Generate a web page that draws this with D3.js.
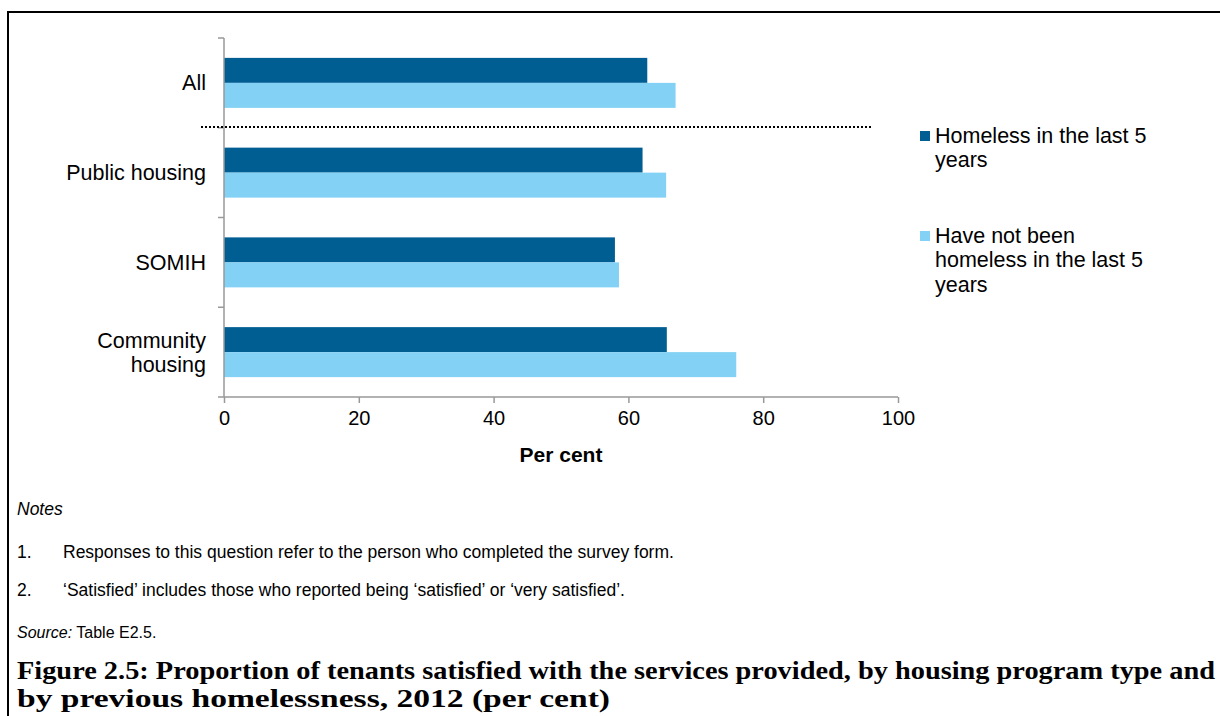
<!DOCTYPE html>
<html>
<head>
<meta charset="utf-8">
<script src="https://cdn.jsdelivr.net/npm/d3@7"></script>
<style>
  html, body { margin: 0; padding: 0; background: #fff; }
  svg { display: block; }
  text { font-family: "Liberation Sans", Arial, sans-serif; fill: #000; }
</style>
</head>
<body>
<svg id="chart" width="1220" height="716"></svg>
<script>
// Housing program categories (top to bottom)
const categories = ["All", "Public housing", "SOMIH", "Community housing"];
const categoryLines = [["All"], ["Public housing"], ["SOMIH"], ["Community", "housing"]];

// Series: share of tenants satisfied (per cent)
const seriesNames = ["Homeless in the last 5 years", "Have not been homeless in the last 5 years"];
const homeless = [62.8, 62.1, 58.0, 65.7];
const notHomeless = [67.0, 65.6, 58.6, 76.0];

const xTicks = [0, 20, 40, 60, 80, 100];

const legendLines = [["Homeless in the last 5", "years"], ["Have not been", "homeless in the last 5", "years"]];
const notes = [
  "Responses to this question refer to the person who completed the survey form.",
  "\u2018Satisfied\u2019 includes those who reported being \u2018satisfied\u2019 or \u2018very satisfied\u2019."
];
const titleLines = [
  "Figure 2.5: Proportion of tenants satisfied with the services provided, by housing program type and",
  "by previous homelessness, 2012 (per cent)"
];

const colors = ["#005E93", "#83D1F5"];

const svg = d3.select("#chart");

// Frame around the figure
svg.append("line").attr("x1", 8).attr("x2", 1220).attr("y1", 12).attr("y2", 12)
  .attr("stroke", "#000").attr("stroke-width", 2);
svg.append("line").attr("x1", 8).attr("x2", 8).attr("y1", 11).attr("y2", 716)
  .attr("stroke", "#000").attr("stroke-width", 2);

const x = d3.scaleLinear().domain([0, 100]).range([224, 898]);
const y = d3.scaleBand().domain(categories).range([38, 397]).paddingInner(0).paddingOuter(0);
const inner = d3.scaleBand().domain([0, 1]).range([0, y.bandwidth()]).paddingInner(0).paddingOuter(0.795);

// Bars
const series = [homeless, notHomeless];
series.forEach((vals, si) => {
  svg.append("g").selectAll("rect")
    .data(categories)
    .join("rect")
    .attr("x", x(0))
    .attr("y", c => y(c) + inner(si))
    .attr("width", (c, i) => x(vals[i]) - x(0))
    .attr("height", inner.bandwidth())
    .attr("fill", colors[si]);
});

// X axis
const xAxis = svg.append("g")
  .attr("transform", `translate(0,${397})`)
  .call(d3.axisBottom(x).tickValues(xTicks).tickSize(6).tickPadding(8).tickFormat(d3.format("d")));
xAxis.select(".domain").attr("stroke", "#999").attr("stroke-width", 1.5).attr("d", `M${x(0)},0H${x(100)}`);
xAxis.selectAll(".tick line").attr("stroke", "#999").attr("stroke-width", 1.5);
xAxis.selectAll(".tick text").attr("font-size", 20).attr("font-family", "Liberation Sans, Arial, sans-serif").attr("fill", "#000");

// Y axis line with ticks at band boundaries
const yAxisG = svg.append("g");
yAxisG.append("line").attr("x1", x(0)).attr("x2", x(0)).attr("y1", y.range()[0]).attr("y2", y.range()[1])
  .attr("stroke", "#999").attr("stroke-width", 1.5);
const boundaries = categories.map(c => y(c)).concat([y.range()[1]]);
yAxisG.selectAll("line.tk").data(boundaries).join("line").attr("class", "tk")
  .attr("x1", x(0) - 6).attr("x2", x(0)).attr("y1", d => d).attr("y2", d => d)
  .attr("stroke", "#999").attr("stroke-width", 1.5);

// Category labels
categories.forEach((c, i) => {
  const lines = categoryLines[i];
  const cy = y(c) + y.bandwidth() / 2;
  const lh = 24;
  const t = svg.append("text").attr("text-anchor", "end").attr("font-size", 21.5);
  lines.forEach((ln, j) => {
    t.append("tspan").attr("x", 206).attr("y", cy + (j - (lines.length - 1) / 2) * lh).attr("dy", "0.35em").text(ln);
  });
});

// Dotted separator below "All"
svg.append("line").attr("x1", 201).attr("x2", 873).attr("y1", 127).attr("y2", 127)
  .attr("stroke", "#000").attr("stroke-width", 2).attr("stroke-dasharray", "2,2");

// Axis title
svg.append("text").attr("x", x(50)).attr("y", 455).attr("dy", "0.35em").attr("text-anchor", "middle")
  .attr("font-size", 21).attr("font-weight", "bold").text("Per cent");

// Legend
const legendTop = [135, 235];
legendLines.forEach((lines, i) => {
  svg.append("rect").attr("x", 920).attr("y", legendTop[i] - 4).attr("width", 10).attr("height", 10).attr("fill", colors[i]);
  const t = svg.append("text").attr("font-size", 21.5);
  lines.forEach((ln, j) => {
    t.append("tspan").attr("x", 935).attr("y", legendTop[i] + j * 24.5).attr("dy", "0.35em").text(ln);
  });
});

// Notes and source
svg.append("text").attr("x", 17).attr("y", 509).attr("dy", "0.35em").attr("font-size", 17.5).attr("font-style", "italic").text("Notes");
const noteY = [552, 590];
notes.forEach((n, i) => {
  svg.append("text").attr("x", 17).attr("y", noteY[i]).attr("dy", "0.35em").attr("font-size", 17.5).text((i + 1) + ".");
  svg.append("text").attr("x", 63).attr("y", noteY[i]).attr("dy", "0.35em").attr("font-size", 17.5).text(n);
});
const src = svg.append("text").attr("x", 17).attr("y", 632).attr("dy", "0.35em").attr("font-size", 16);
src.append("tspan").attr("font-style", "italic").text("Source:");
src.append("tspan").text(" Table E2.5.");

// Figure title in two lines, each fitted to its measured span
const titleBase = [679, 707];
const titleWidth = [1198, 593];
titleLines.forEach((ln, i) => {
  svg.append("text").attr("x", 17).attr("y", titleBase[i])
    .attr("font-weight", "bold").attr("font-size", 25.5)
    .attr("textLength", titleWidth[i]).attr("lengthAdjust", "spacingAndGlyphs")
    .style("font-family", "'Liberation Serif', serif").text(ln);
});
</script>
</body>
</html>
